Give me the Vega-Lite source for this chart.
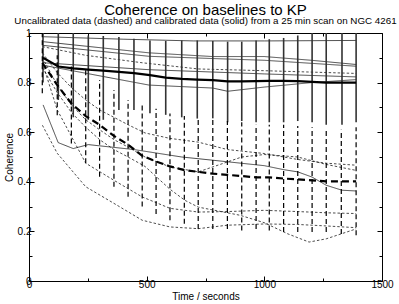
{
  "$schema": "https://vega.github.io/schema/vega-lite/v6.json",
  "width": 353,
  "height": 248,
  "autosize": "none",
  "padding": {"left": 29, "top": 33, "right": 17, "bottom": 23},
  "background": "white",
  "title": {
    "text": "Coherence on baselines to KP",
    "subtitle": "Uncalibrated data (dashed) and calibrated data (solid) from a 25 min scan on NGC 4261",
    "font": "Liberation Sans",
    "fontSize": 15,
    "fontWeight": "normal",
    "subtitleFont": "Liberation Sans",
    "subtitleFontSize": 9.8,
    "subtitleColor": "black",
    "color": "black",
    "anchor": "middle",
    "offset": 2,
    "subtitlePadding": -2
  },
  "config": {
    "view": {"stroke": null},
    "axis": {
      "labelFont": "Liberation Sans",
      "titleFont": "Liberation Sans",
      "labelFontSize": 10,
      "titleFontSize": 10,
      "titleFontWeight": "normal",
      "labelColor": "black",
      "titleColor": "black",
      "domainColor": "black",
      "tickColor": "black",
      "grid": false
    }
  },
  "datasets": {
    "thin": [
      {"s": "S1", "k": "cal", "t": 60, "c": 0.985},
      {"s": "S1", "k": "cal", "t": 400, "c": 0.975},
      {"s": "S1", "k": "cal", "t": 700, "c": 0.968},
      {"s": "S1", "k": "cal", "t": 1000, "c": 0.968},
      {"s": "S1", "k": "cal", "t": 1390, "c": 0.97},
      {"s": "S2", "k": "cal", "t": 60, "c": 0.965},
      {"s": "S2", "k": "cal", "t": 510, "c": 0.92},
      {"s": "S2", "k": "cal", "t": 781, "c": 0.905},
      {"s": "S2", "k": "cal", "t": 1000, "c": 0.905},
      {"s": "S2", "k": "cal", "t": 1200, "c": 0.89},
      {"s": "S2", "k": "cal", "t": 1390, "c": 0.873},
      {"s": "S3", "k": "cal", "t": 60, "c": 0.95},
      {"s": "S3", "k": "cal", "t": 510, "c": 0.906},
      {"s": "S3", "k": "cal", "t": 781, "c": 0.897},
      {"s": "S3", "k": "cal", "t": 1000, "c": 0.89},
      {"s": "S3", "k": "cal", "t": 1390, "c": 0.866},
      {"s": "S4", "k": "cal", "t": 60, "c": 0.88},
      {"s": "S4", "k": "cal", "t": 510, "c": 0.852},
      {"s": "S4", "k": "cal", "t": 1000, "c": 0.835},
      {"s": "S4", "k": "cal", "t": 1390, "c": 0.823},
      {"s": "S5", "k": "cal", "t": 60, "c": 0.87},
      {"s": "S5", "k": "cal", "t": 510, "c": 0.79},
      {"s": "S5", "k": "cal", "t": 781, "c": 0.778},
      {"s": "S5", "k": "cal", "t": 844, "c": 0.765},
      {"s": "S5", "k": "cal", "t": 1000, "c": 0.782},
      {"s": "S5", "k": "cal", "t": 1200, "c": 0.8},
      {"s": "S5", "k": "cal", "t": 1390, "c": 0.812},
      {"s": "S6", "k": "cal", "t": 60, "c": 0.71},
      {"s": "S6", "k": "cal", "t": 124, "c": 0.558},
      {"s": "S6", "k": "cal", "t": 188, "c": 0.534},
      {"s": "S6", "k": "cal", "t": 252, "c": 0.55},
      {"s": "S6", "k": "cal", "t": 446, "c": 0.53},
      {"s": "S6", "k": "cal", "t": 514, "c": 0.52},
      {"s": "S6", "k": "cal", "t": 649, "c": 0.5},
      {"s": "S6", "k": "cal", "t": 781, "c": 0.487},
      {"s": "S6", "k": "cal", "t": 1000, "c": 0.465},
      {"s": "S6", "k": "cal", "t": 1082, "c": 0.449},
      {"s": "S6", "k": "cal", "t": 1142, "c": 0.44},
      {"s": "S6", "k": "cal", "t": 1203, "c": 0.419},
      {"s": "S6", "k": "cal", "t": 1263, "c": 0.386},
      {"s": "S6", "k": "cal", "t": 1330, "c": 0.366},
      {"s": "S6", "k": "cal", "t": 1390, "c": 0.363},
      {"s": "D1", "k": "uncal", "t": 57, "c": 0.945},
      {"s": "D1", "k": "uncal", "t": 241, "c": 0.91},
      {"s": "D1", "k": "uncal", "t": 481, "c": 0.88},
      {"s": "D1", "k": "uncal", "t": 719, "c": 0.855},
      {"s": "D1", "k": "uncal", "t": 1000, "c": 0.848},
      {"s": "D1", "k": "uncal", "t": 1390, "c": 0.837},
      {"s": "D2", "k": "uncal", "t": 57, "c": 0.92},
      {"s": "D2", "k": "uncal", "t": 120, "c": 0.84},
      {"s": "D2", "k": "uncal", "t": 180, "c": 0.78},
      {"s": "D2", "k": "uncal", "t": 241, "c": 0.73},
      {"s": "D2", "k": "uncal", "t": 300, "c": 0.69},
      {"s": "D2", "k": "uncal", "t": 361, "c": 0.66},
      {"s": "D2", "k": "uncal", "t": 421, "c": 0.63},
      {"s": "D2", "k": "uncal", "t": 493, "c": 0.597},
      {"s": "D2", "k": "uncal", "t": 599, "c": 0.575},
      {"s": "D2", "k": "uncal", "t": 719, "c": 0.56},
      {"s": "D2", "k": "uncal", "t": 843, "c": 0.53},
      {"s": "D2", "k": "uncal", "t": 1000, "c": 0.514},
      {"s": "D2", "k": "uncal", "t": 1142, "c": 0.49},
      {"s": "D2", "k": "uncal", "t": 1263, "c": 0.475},
      {"s": "D2", "k": "uncal", "t": 1390, "c": 0.467},
      {"s": "D3", "k": "uncal", "t": 57, "c": 0.9},
      {"s": "D3", "k": "uncal", "t": 120, "c": 0.79},
      {"s": "D3", "k": "uncal", "t": 180, "c": 0.71},
      {"s": "D3", "k": "uncal", "t": 241, "c": 0.65},
      {"s": "D3", "k": "uncal", "t": 300, "c": 0.61},
      {"s": "D3", "k": "uncal", "t": 361, "c": 0.57},
      {"s": "D3", "k": "uncal", "t": 421, "c": 0.54},
      {"s": "D3", "k": "uncal", "t": 493, "c": 0.5},
      {"s": "D3", "k": "uncal", "t": 599, "c": 0.46},
      {"s": "D3", "k": "uncal", "t": 719, "c": 0.44},
      {"s": "D3", "k": "uncal", "t": 843, "c": 0.48},
      {"s": "D3", "k": "uncal", "t": 904, "c": 0.5},
      {"s": "D3", "k": "uncal", "t": 1000, "c": 0.51},
      {"s": "D3", "k": "uncal", "t": 1142, "c": 0.5},
      {"s": "D3", "k": "uncal", "t": 1263, "c": 0.47},
      {"s": "D3", "k": "uncal", "t": 1390, "c": 0.446},
      {"s": "D4", "k": "uncal", "t": 57, "c": 0.86},
      {"s": "D4", "k": "uncal", "t": 120, "c": 0.76},
      {"s": "D4", "k": "uncal", "t": 180, "c": 0.68},
      {"s": "D4", "k": "uncal", "t": 241, "c": 0.62},
      {"s": "D4", "k": "uncal", "t": 300, "c": 0.57},
      {"s": "D4", "k": "uncal", "t": 361, "c": 0.53},
      {"s": "D4", "k": "uncal", "t": 421, "c": 0.5},
      {"s": "D4", "k": "uncal", "t": 493, "c": 0.462},
      {"s": "D4", "k": "uncal", "t": 599, "c": 0.37},
      {"s": "D4", "k": "uncal", "t": 663, "c": 0.325},
      {"s": "D4", "k": "uncal", "t": 719, "c": 0.298},
      {"s": "D4", "k": "uncal", "t": 897, "c": 0.265},
      {"s": "D4", "k": "uncal", "t": 1000, "c": 0.235},
      {"s": "D4", "k": "uncal", "t": 1100, "c": 0.19},
      {"s": "D4", "k": "uncal", "t": 1190, "c": 0.157},
      {"s": "D4", "k": "uncal", "t": 1263, "c": 0.17},
      {"s": "D4", "k": "uncal", "t": 1390, "c": 0.21},
      {"s": "D5", "k": "uncal", "t": 57, "c": 0.88},
      {"s": "D5", "k": "uncal", "t": 120, "c": 0.69},
      {"s": "D5", "k": "uncal", "t": 241, "c": 0.475},
      {"s": "D5", "k": "uncal", "t": 361, "c": 0.406},
      {"s": "D5", "k": "uncal", "t": 481, "c": 0.339},
      {"s": "D5", "k": "uncal", "t": 599, "c": 0.293},
      {"s": "D5", "k": "uncal", "t": 719, "c": 0.278},
      {"s": "D5", "k": "uncal", "t": 843, "c": 0.28},
      {"s": "D5", "k": "uncal", "t": 1000, "c": 0.285},
      {"s": "D5", "k": "uncal", "t": 1142, "c": 0.28},
      {"s": "D5", "k": "uncal", "t": 1263, "c": 0.275},
      {"s": "D5", "k": "uncal", "t": 1390, "c": 0.272},
      {"s": "D6", "k": "uncal", "t": 57, "c": 0.628},
      {"s": "D6", "k": "uncal", "t": 120, "c": 0.515},
      {"s": "D6", "k": "uncal", "t": 241, "c": 0.38},
      {"s": "D6", "k": "uncal", "t": 361, "c": 0.313},
      {"s": "D6", "k": "uncal", "t": 481, "c": 0.245},
      {"s": "D6", "k": "uncal", "t": 599, "c": 0.218},
      {"s": "D6", "k": "uncal", "t": 719, "c": 0.211},
      {"s": "D6", "k": "uncal", "t": 843, "c": 0.225},
      {"s": "D6", "k": "uncal", "t": 1000, "c": 0.23},
      {"s": "D6", "k": "uncal", "t": 1142, "c": 0.228},
      {"s": "D6", "k": "uncal", "t": 1263, "c": 0.222},
      {"s": "D6", "k": "uncal", "t": 1390, "c": 0.215}
    ],
    "calmean": [
      {"t": 59.5, "c": 0.9, "lo": 0.8, "hi": 1.0},
      {"t": 124.5, "c": 0.865, "lo": 0.73, "hi": 1.0},
      {"t": 188, "c": 0.857, "lo": 0.66, "hi": 1.0},
      {"t": 252, "c": 0.852, "lo": 0.65, "hi": 0.99},
      {"t": 315.7, "c": 0.848, "lo": 0.65, "hi": 0.988},
      {"t": 382, "c": 0.843, "lo": 0.69, "hi": 0.984},
      {"t": 446, "c": 0.838, "lo": 0.69, "hi": 0.977},
      {"t": 514, "c": 0.83, "lo": 0.676, "hi": 0.97},
      {"t": 581, "c": 0.82, "lo": 0.67, "hi": 0.968},
      {"t": 649, "c": 0.815, "lo": 0.66, "hi": 0.97},
      {"t": 715, "c": 0.812, "lo": 0.655, "hi": 0.97},
      {"t": 781, "c": 0.81, "lo": 0.656, "hi": 0.968},
      {"t": 844, "c": 0.805, "lo": 0.64, "hi": 0.965},
      {"t": 904, "c": 0.805, "lo": 0.645, "hi": 0.965},
      {"t": 965, "c": 0.806, "lo": 0.64, "hi": 0.97},
      {"t": 1021, "c": 0.807, "lo": 0.64, "hi": 0.975},
      {"t": 1082, "c": 0.807, "lo": 0.64, "hi": 0.98},
      {"t": 1142, "c": 0.806, "lo": 0.645, "hi": 0.99},
      {"t": 1203, "c": 0.803, "lo": 0.64, "hi": 1.0},
      {"t": 1263, "c": 0.8, "lo": 0.63, "hi": 1.0},
      {"t": 1330, "c": 0.8, "lo": 0.63, "hi": 1.0},
      {"t": 1390, "c": 0.8, "lo": 0.64, "hi": 1.0}
    ],
    "uncalmean": [
      {"t": 56.5, "c": 0.88, "lo": 0.757, "hi": 1.0},
      {"t": 120, "c": 0.79, "lo": 0.668, "hi": 0.91},
      {"t": 180, "c": 0.716, "lo": 0.554, "hi": 0.877},
      {"t": 241, "c": 0.665, "lo": 0.475, "hi": 0.855},
      {"t": 300, "c": 0.63, "lo": 0.42, "hi": 0.81},
      {"t": 361, "c": 0.585, "lo": 0.38, "hi": 0.77},
      {"t": 421, "c": 0.55, "lo": 0.34, "hi": 0.73},
      {"t": 481, "c": 0.505, "lo": 0.3, "hi": 0.71},
      {"t": 540, "c": 0.482, "lo": 0.27, "hi": 0.695},
      {"t": 599, "c": 0.462, "lo": 0.245, "hi": 0.675},
      {"t": 660, "c": 0.447, "lo": 0.231, "hi": 0.665},
      {"t": 719, "c": 0.44, "lo": 0.21, "hi": 0.66},
      {"t": 781, "c": 0.433, "lo": 0.21, "hi": 0.656},
      {"t": 843, "c": 0.428, "lo": 0.21, "hi": 0.645},
      {"t": 904, "c": 0.423, "lo": 0.204, "hi": 0.64},
      {"t": 965, "c": 0.418, "lo": 0.21, "hi": 0.63},
      {"t": 1021, "c": 0.418, "lo": 0.204, "hi": 0.63},
      {"t": 1082, "c": 0.413, "lo": 0.198, "hi": 0.63},
      {"t": 1142, "c": 0.41, "lo": 0.198, "hi": 0.625},
      {"t": 1203, "c": 0.406, "lo": 0.198, "hi": 0.62},
      {"t": 1263, "c": 0.402, "lo": 0.198, "hi": 0.61},
      {"t": 1327, "c": 0.402, "lo": 0.19, "hi": 0.61},
      {"t": 1390, "c": 0.402, "lo": 0.184, "hi": 0.62}
    ]
  },
  "layer": [
    {
      "data": {"name": "thin"},
      "mark": {"type": "line", "stroke": "black", "strokeWidth": 0.7, "clip": true},
      "encoding": {
        "x": {"field": "t", "type": "quantitative", "scale": {"domain": [0, 1500], "nice": false},
          "axis": {"orient": "bottom", "title": "Time / seconds", "values": [0, 250, 500, 750, 1000, 1250, 1500],
            "labelExpr": "datum.value % 500 === 0 ? datum.label : ''", "labelFlush": false, "labelPadding": 3,
            "tickSize": {"condition": {"test": "datum.value % 500 === 0", "value": -5}, "value": -3},
            "titlePadding": 2, "domain": true, "format": "d"}},
        "y": {"field": "c", "type": "quantitative", "scale": {"domain": [0, 1], "nice": false},
          "axis": {"orient": "left", "title": "Coherence", "values": [0, 0.1, 0.2, 0.3, 0.4, 0.5, 0.6, 0.7, 0.8, 0.9, 1],
            "labelExpr": "(round(datum.value*10) % 2 === 0) ? (datum.value === 0 ? '0' : datum.value === 1 ? '1' : format(datum.value, '.1f')) : ''",
            "tickSize": {"condition": {"test": "round(datum.value*10) % 2 === 0", "value": -5}, "value": -3},
            "labelPadding": 3, "titlePadding": 3, "labelFlush": false}},
        "detail": {"field": "s"},
        "strokeDash": {"field": "k", "type": "nominal", "scale": {"domain": ["cal", "uncal"], "range": [[1, 0], [2.5, 2]]}, "legend": null}
      }
    },
    {
      "data": {"name": "calmean"},
      "mark": {"type": "rule", "stroke": "#333", "strokeWidth": 1.6, "clip": true},
      "encoding": {
        "x": {"field": "t", "type": "quantitative", "axis": null},
        "y": {"field": "lo", "type": "quantitative", "axis": null},
        "y2": {"field": "hi"}
      }
    },
    {
      "data": {"name": "uncalmean"},
      "mark": {"type": "rule", "stroke": "black", "strokeWidth": 1.2, "strokeDash": [5, 3], "clip": true},
      "encoding": {
        "x": {"field": "t", "type": "quantitative", "axis": null},
        "y": {"field": "lo", "type": "quantitative", "axis": null},
        "y2": {"field": "hi"}
      }
    },
    {
      "data": {"name": "calmean"},
      "mark": {"type": "line", "stroke": "black", "strokeWidth": 2.2, "clip": true},
      "encoding": {
        "x": {"field": "t", "type": "quantitative", "axis": null},
        "y": {"field": "c", "type": "quantitative", "axis": null}
      }
    },
    {
      "data": {"name": "uncalmean"},
      "mark": {"type": "line", "stroke": "black", "strokeWidth": 2.2, "strokeDash": [7, 4], "clip": true},
      "encoding": {
        "x": {"field": "t", "type": "quantitative", "axis": null},
        "y": {"field": "c", "type": "quantitative", "axis": null}
      }
    },
    {
      "data": {"values": [{"t": 0, "c": 0}]},
      "mark": {"type": "point", "opacity": 0},
      "encoding": {
        "x": {"field": "t", "type": "quantitative",
          "axis": {"orient": "top", "title": null, "labels": false, "values": [0, 250, 500, 750, 1000, 1250, 1500],
            "tickSize": {"condition": {"test": "datum.value % 500 === 0", "value": -5}, "value": -3}}},
        "y": {"field": "c", "type": "quantitative",
          "axis": {"orient": "right", "title": null, "labels": false, "values": [0, 0.1, 0.2, 0.3, 0.4, 0.5, 0.6, 0.7, 0.8, 0.9, 1],
            "tickSize": {"condition": {"test": "round(datum.value*10) % 2 === 0", "value": -5}, "value": -3}}}
      }
    }
  ],
  "resolve": {"axis": {"x": "independent", "y": "independent"}}
}
